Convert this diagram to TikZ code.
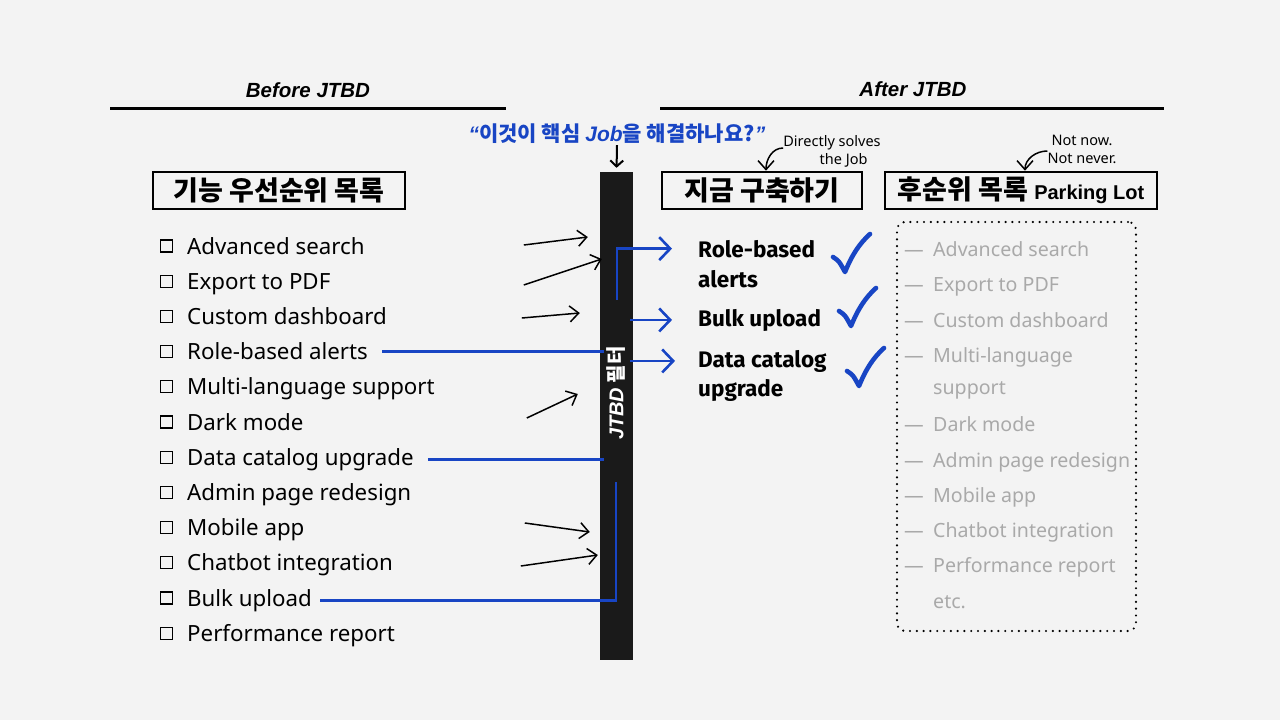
\documentclass[tikz,border=0pt]{standalone}
\usepackage{fontspec}
\setmainfont{Noto Sans}
\newfontfamily\krfont{Noto Sans CJK KR}
\newfontfamily\headfont{Liberation Sans}
\newfontfamily\pickfont{Fira Sans}
\usetikzlibrary{arrows.meta, positioning}
\definecolor{paper}{HTML}{F3F3F3}
\definecolor{jobblue}{HTML}{1845C4}
\definecolor{barblack}{HTML}{1A1A1A}
\definecolor{lotgray}{HTML}{A9A9A9}

\begin{document}
\begin{tikzpicture}[
    x=1pt, y=-1pt,
    title/.style={font=\headfont\fontsize{20.5}{24}\selectfont\bfseries\itshape},
    rule/.style={line width=3pt},
    listbox/.style={draw, line width=2.6pt, fill=paper, inner sep=0pt, minimum height=37pt, font=\krfont\fontsize{27}{30}\selectfont\bfseries},
    item/.style={anchor=base west, inner sep=0pt, font=\fontsize{22.3}{26}\selectfont},
    pick/.style={anchor=base west, inner sep=0pt, font=\pickfont\fontsize{22.5}{26}\selectfont\bfseries},
    later/.style={anchor=base west, inner sep=0pt, text=lotgray, font=\fontsize{19.6}{24}\selectfont},
    chk/.style={draw, line width=1.3pt, minimum size=12pt, inner sep=0pt},
    note/.style={align=center, inner sep=0pt, font=\fontsize{14.5}{18}\selectfont},
    handarrow/.style={-{Straight Barb[length=9pt, width=16pt]}, line width=1.5pt},
    bluel/.style={draw=jobblue, line width=2.6pt},
    bluearrow/.style={bluel, -{Straight Barb[length=11pt, width=23pt]}},
    tick/.pic={\draw[jobblue, line width=4.6pt, line cap=round, line join=round]
        (-17,2) .. controls (-11,6) .. (-5,17) .. controls (2,0) and (9,-11) .. (20,-21);}
]
    \fill[paper] (0,0) rectangle (1280,720);

    % HEADINGS
    \node[title] (before) at (308,90) {Before JTBD};
    \node[title] (after) at (913,89) {After JTBD};
    \draw[rule] (110,108) -- (506,108);
    \draw[rule] (660,108) -- (1164,108);

    % QUESTION + FILTER BAR
    \node[font=\krfont\fontsize{21}{24}\selectfont\bfseries, text=jobblue, inner sep=1pt] (ask) at (617,134)
        {{\headfont\itshape “}이것이 핵심 {\headfont\itshape Job}을 해결하나요?{\headfont\itshape ”}};
    \node[fill=barblack, minimum width=33pt, minimum height=488pt, inner sep=0pt] (filter) at (616.5,416) {};
    \node[rotate=90, text=white, inner sep=0pt, font=\krfont\fontsize{20}{22}\selectfont\bfseries] (filtername) at (616,393)
        {{\headfont\itshape JTBD} 필터};
    \draw[-{Straight Barb[length=6pt, width=13pt]}, line width=2pt, shorten >=4pt] (ask.south) -- (filter.north);

    % BEFORE: FEATURE LIST
    \node[listbox, minimum width=252pt] (backlog) at (279,190.5) {기능 우선순위 목록};
    \foreach \txt [count=\i] in {Advanced search, Export to PDF, Custom dashboard, Role-based alerts,
        Multi-language support, Dark mode, Data catalog upgrade, Admin page redesign,
        Mobile app, Chatbot integration, Bulk upload, Performance report} {
        \node[item] (l\i) at (187,{254+35.2*(\i-1)}) {\txt};
        \node[chk] (c\i) at (166.5,{246+35.2*(\i-1)}) {};
    }

    % REJECTED: ARROWS STOPPING AT THE BAR
    \foreach \xa/\ya/\xb/\yb in {-76/245/-12/237, -76/285/2/259, -78/318/-20/313,
        -73/418/-22/394, -75/523/-10/532, -79/566/-2/555}
        \draw[handarrow] ([xshift=\xa]filter.west |- 0,\ya) -- ([xshift=\xb]filter.west |- 0,\yb);

    % PASSED: BLUE LINES INTO THE BAR
    \coordinate (bulktop) at (616,482);
    \coordinate (roletail) at (617,300);
    \draw[bluel] ([xshift=14pt]l4.east) -- ([xshift=4pt]filter.west |- l4.east);
    \draw[bluel] ([xshift=14pt]l7.east) -- ([xshift=4pt]filter.west |- l7.east);
    \draw[bluel] ([xshift=8pt]l11.east) -| (bulktop);

    % AFTER: BUILD NOW
    \node[listbox, minimum width=200pt] (now) at (762,190.5) {지금 구축하기};
    \node[pick] (r1) at (698,257) {Role-based};
    \node[pick] (r1b) at (698,287) {alerts};
    \node[pick] (r2) at (698,326) {Bulk upload};
    \node[pick] (r3) at (698,367) {Data catalog};
    \node[pick] (r3b) at (698,396) {upgrade};
    \draw[bluearrow] (roletail) |- ([xshift=-26pt]r1.west);
    \draw[bluearrow] ([xshift=-3pt]filter.east |- r2.west) -- ([xshift=-26pt]r2.west);
    \draw[bluearrow] ([xshift=-3pt]filter.east |- r3.west) -- ([xshift=-23pt]r3.west);
    \pic at (850,255) {tick};
    \pic at (856,309) {tick};
    \pic at (864,369) {tick};

    \node[note] (solves) at (832,151) {Directly solves\\\hspace*{1.6em}the Job};
    \draw[handarrow] ([yshift=3pt]solves.west) to[out=180, in=90] ([xshift=4pt]now.north);

    % AFTER: PARKING LOT
    \node[listbox, minimum width=272pt] (parking) at (1021,190.5)
        {후순위 목록 {\headfont\fontsize{20}{24}\selectfont\bfseries Parking Lot}};
    \node[note] (notnow) at (1082,149) {Not now.\\Not never.};
    \draw[handarrow] ([yshift=-2pt]notnow.west) to[out=180, in=90] ([xshift=4pt]parking.north);

    \node[draw, dash pattern=on 0pt off 6.8pt, line cap=round, line width=2.4pt, rounded corners=8pt,
        minimum width=239pt, minimum height=409pt, inner sep=0pt] (lot) at (1016.5,426.5) {};
    \foreach \y/\dash/\txt [count=\i] in {256/1/Advanced search, 291/1/Export to PDF, 327/1/Custom dashboard,
        362/1/Multi-language, 394/0/support, 431/1/Dark mode, 467/1/Admin page redesign,
        502/1/Mobile app, 537/1/Chatbot integration, 572/1/Performance report, 608/0/etc.} {
        \node[later] (p\i) at (933,\y) {\txt};
        \ifnum\dash=1 \node[later, anchor=base east] at ([xshift=-9pt]p\i.base west) {—}; \fi
    }

\end{tikzpicture}
\end{document}
